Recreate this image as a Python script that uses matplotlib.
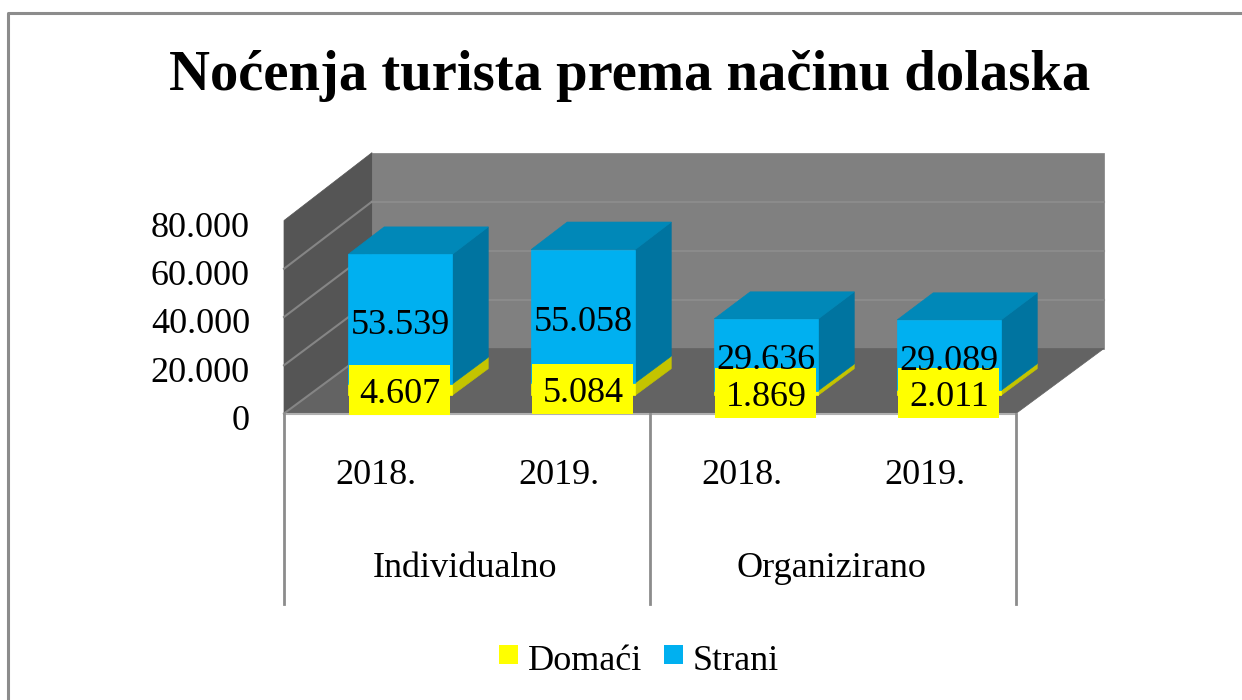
import matplotlib
matplotlib.use("Agg")
import matplotlib.pyplot as plt
from matplotlib.legend_handler import HandlerPatch
from matplotlib.patches import Patch, Polygon, Rectangle
from matplotlib.transforms import ScaledTranslation

plt.rcParams['font.family'] = ['Liberation Serif', 'DejaVu Serif']

years = ['2018.', '2019.', '2018.', '2019.']
groups = ['Individualno', 'Organizirano']
domaci = [4607, 5084, 1869, 2011]
strani = [53539, 55058, 29636, 29089]
y_ticks = [0, 20000, 40000, 60000, 80000]

W, H = 1242, 700
YELLOW = '#FFFF00'
BLUE = '#00B0F0'
FONT = 26

# oblique projection: depth 0 is the front edge of the floor, depth 1 the back wall
DX = 88 / 183
DY = 65 / 193 * 80000
BAR_WIDTH = 104 / 183
BAR_FRONT = 0.28
BAR_BACK = 0.69


def project(x, value, depth):
    return x + depth * DX, value * (1 + 0.015 * depth) + depth * DY


def face(ax, points, color, z):
    ax.add_patch(Polygon([project(*p) for p in points], closed=True, facecolor=color,
                         edgecolor=color, linewidth=0.5, clip_on=False, zorder=z))


def line3d(ax, a, b, color, z=1.5):
    pa, pb = project(*a), project(*b)
    ax.plot([pa[0], pb[0]], [pa[1], pb[1]], color=color, lw=1.5, clip_on=False, zorder=z)


def draw_block(ax, left, low, high, front, top, side, z):
    right = left + BAR_WIDTH
    face(ax, [(right, low, BAR_FRONT), (right, low, BAR_BACK),
              (right, high, BAR_BACK), (right, high, BAR_FRONT)], side, z)
    face(ax, [(left, high, BAR_FRONT), (right, high, BAR_FRONT),
              (right, high, BAR_BACK), (left, high, BAR_BACK)], top, z)
    face(ax, [(left, low, BAR_FRONT), (right, low, BAR_FRONT),
              (right, high, BAR_FRONT), (left, high, BAR_FRONT)], front, z)


fig = plt.figure(figsize=(W / 100, H / 100), dpi=100, facecolor='white')
ax = fig.add_axes([284 / W, (H - 413.5) / H, 732 / W, 193 / H])
ax.set_xlim(0, 4)
ax.set_ylim(0, 80000)
ax.patch.set_visible(False)
for s in ax.spines.values():
    s.set_visible(False)

# walls and floor
face(ax, [(0, 0, 1), (4, 0, 1), (4, 80000, 1), (0, 80000, 1)], '#808080', 1)
face(ax, [(0, 0, 0), (0, 0, 1), (0, 80000, 1), (0, 80000, 0)], '#555555', 1)
face(ax, [(0, 0, 0), (4, 0, 0), (4, 0, 1), (0, 0, 1)], '#636363', 1)
for v in y_ticks[1:-1]:
    line3d(ax, (0, v, 0), (0, v, 1), '#858585')
    line3d(ax, (0, v, 1), (4, v, 1), '#8B8B8B')
line3d(ax, (0, 0, 0), (0, 0, 1), '#858585')
line3d(ax, (0, 0, 0), (4, 0, 0), '#B0B0B0')

# stacked blocks
for i in range(4):
    left = i + 0.5 - BAR_WIDTH / 2
    draw_block(ax, left, 0, domaci[i], YELLOW, '#E0E000', '#C4C400', 3 + i)
    draw_block(ax, left, domaci[i], domaci[i] + strani[i], BLUE, '#0088B8', '#0074A0', 3 + i)

# value labels, the yellow ones sit on a box of their own
box_w, box_h = 101 / 183, 50 / 193 * 80000
for i in range(4):
    cx, cy = project(i + 0.5, domaci[i] / 2, BAR_FRONT)
    ax.add_patch(Rectangle((cx - box_w / 2 - 0.006, cy - box_h / 2), box_w, box_h, facecolor=YELLOW,
                           edgecolor='none', clip_on=False, zorder=10))
    ax.text(cx, cy - 2000, f"{domaci[i]:,}".replace(",", "."), ha='center', va='center',
            fontsize=FONT, zorder=11)
    sx, sy = project(i + 0.5, domaci[i] + strani[i] / 2, BAR_FRONT)
    ax.text(sx, sy - 2500, f"{strani[i]:,}".replace(",", "."), ha='center', va='center',
            fontsize=FONT, zorder=11)

# axes labels
ax.set_yticks(y_ticks)
ax.set_yticklabels([f"{v:,}".replace(",", ".") for v in y_ticks], fontsize=FONT)
ax.tick_params(axis='y', length=0, pad=24.5)
for lbl in ax.get_yticklabels():
    lbl.set_transform(lbl.get_transform() + ScaledTranslation(0, -4 / 100, fig.dpi_scale_trans))
ax.set_xticks([0.5, 1.5, 2.5, 3.5])
ax.set_xticklabels(years, fontsize=FONT)
ax.tick_params(axis='x', length=0, pad=32.5)

tr = ax.get_xaxis_transform()
for x in [0, 2, 4]:
    ax.plot([x, x], [0, -190 / 193], transform=tr, color='#8C8C8C', lw=2, clip_on=False, zorder=2)
for x, g in zip([0.99, 2.99], groups):
    ax.text(x, -155 / 193, g, transform=tr, ha='center', va='center', fontsize=FONT)

fig.text(630 / W, 1 - 76 / H, 'Noćenja turista prema načinu dolaska', ha='center', va='center',
         fontsize=40.8, fontweight='bold')

handles = [Patch(facecolor=YELLOW, label='Domaći'), Patch(facecolor=BLUE, label='Strani')]
fig.legend(handles=handles, ncol=2, loc='center', bbox_to_anchor=(639 / W, 1 - 661 / H), frameon=False,
           fontsize=FONT, handlelength=0.52, handleheight=0.67, handletextpad=0.28, columnspacing=0.6,
           handler_map={Patch: HandlerPatch(ypad=0.14)})

# chart frame, runs off the right and bottom of the image
fig.add_artist(plt.Line2D([8 / W, 8 / W, 1], [0, 1 - 13 / H, 1 - 13 / H],
                          color='#8C8C8C', lw=2.2))

fig.savefig('out.png', dpi=100)
